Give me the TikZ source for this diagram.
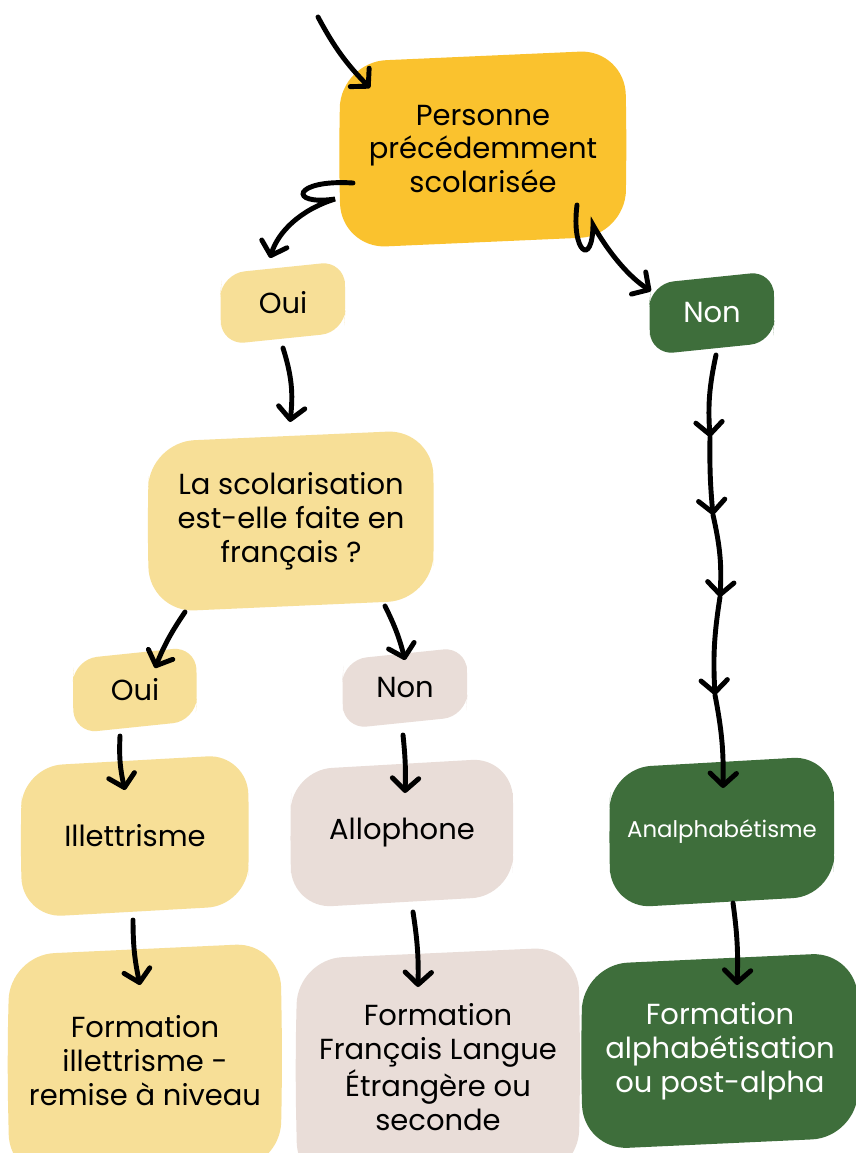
\documentclass[tikz,border=0pt]{standalone}
\usepackage{fontspec}
\setmainfont{Poppins}
\usepackage{tikz}
\usetikzlibrary{arrows.meta,backgrounds}
\definecolor{gold}{HTML}{FAC22E}
\definecolor{sand}{HTML}{F7DF97}
\definecolor{rose}{HTML}{E9DDD8}
\definecolor{moss}{HTML}{3E6E3B}
\tikzset{
    box/.style={align=center, inner sep=0pt, font=\fontsize{16.5}{19.3}\selectfont},
    dark/.style={box, text=white},
    arr/.style={line width=2.8pt, line cap=round, -{Straight Barb[length=7pt,width=15pt,round]}},
}
\newcommand{\blob}[3]{%
  \fill[#2, rounded corners=#3] ([yshift=-0.25cm]#1.north west) -- (#1.north east)
    -- ([xshift=0.04cm]#1.east) -- ([yshift=0.25cm]#1.south east)
    -- (#1.south west) -- ([xshift=-0.05cm]#1.west) -- cycle;}

\begin{document}
\begin{tikzpicture}
\useasboundingbox (0,0) rectangle (17.12,-23.06);

\node[box, minimum width=5.66cm, minimum height=3.96cm] (pers) at (9.66,-2.98) {Personne\\précédemment\\scolarisée};
\node[box, minimum width=2.42cm, minimum height=1.66cm] (oui1) at (5.66,-6.06) {Oui};
\node[dark, minimum width=2.42cm, minimum height=1.66cm] (non1) at (14.24,-6.26) {Non};
\node[box, minimum width=5.64cm, minimum height=3.64cm] (scol) at (5.82,-10.42) {La scolarisation\\est-elle faite en\\français ?};
\node[box, minimum width=2.40cm, minimum height=1.72cm] (oui2) at (2.70,-13.80) {Oui};
\node[box, minimum width=2.42cm, minimum height=1.62cm] (non2) at (8.10,-13.76) {Non};
\node[box, minimum width=4.48cm, minimum height=3.26cm] (illet) at (2.70,-16.72) {Illettrisme};
\node[box, minimum width=4.38cm, minimum height=3.00cm] (allo) at (8.04,-16.66) {Allophone};
\node[dark, minimum width=4.42cm, minimum height=3.04cm, font=\fontsize{13}{16}\selectfont] (anal) at (14.44,-16.64) {Analphabétisme};
\node[box, minimum width=5.40cm, minimum height=4.72cm] (remise) at (2.90,-21.22) {Formation\\illettrisme -\\remise à niveau};
\node[box, minimum width=5.60cm, minimum height=4.80cm] (fle) at (8.76,-21.34) {Formation\\Français Langue\\Étrangère ou\\seconde};
\node[dark, minimum width=5.46cm, minimum height=3.94cm] (alpha) at (14.40,-21.02) {Formation\\alphabétisation\\ou post-alpha};

\coordinate (start) at (6.36,-0.34);
\coordinate (k1) at (14.20,-8.74);
\coordinate (k2) at (14.26,-10.30);
\coordinate (k3) at (14.40,-11.94);
\coordinate (k4) at (14.30,-13.90);

\draw[arr] (start) to[bend right=8] ([shift={(-2.26,1.22)}]pers.center);
\draw[arr] ([shift={(-2.60,-0.68)}]pers.center) .. controls (5.85,-3.58) and (5.75,-4.12) .. (6.70,-3.98)
    .. controls (6.0,-4.2) and (5.56,-4.64) .. ([shift={(-0.26,0.90)}]oui1.center);
\draw[arr] ([shift={(1.88,-1.12)}]pers.center) .. controls (11.42,-5.05) and (11.85,-5.35) .. (11.86,-4.5)
    .. controls (12.2,-5.1) and (12.6,-5.55) .. ([shift={(-1.22,0.44)}]non1.center);
\draw[arr] ([shift={(0,-0.90)}]oui1.center) to[bend left=12] ([shift={(-0.02,1.98)}]scol.center);
\draw[arr] ([shift={(0.08,-0.84)}]non1.center) to[bend right=8] (k1);
\draw[arr] (k1) to[bend right=3] (k2);
\draw[arr] (k2) to[bend left=8] (k3);
\draw[arr] (k3) to[bend right=6] (k4);
\draw[arr] (k4) to[bend left=6] ([shift={(0.02,0.88)}]anal.center);
\draw[arr] ([shift={(-2.12,-1.82)}]scol.center) to[bend right=6] ([shift={(0.40,0.44)}]oui2.center);
\draw[arr] ([shift={(1.88,-1.70)}]scol.center) to[bend left=6] ([shift={(0,0.56)}]non2.center);
\draw[arr] ([shift={(-0.30,-0.92)}]oui2.center) to[bend right=8] ([shift={(-0.20,0.92)}]illet.center);
\draw[arr] ([shift={(-0.04,-0.94)}]non2.center) to[bend left=4] ([shift={(0.06,0.80)}]allo.center);
\draw[arr] ([shift={(0.22,-1.58)}]allo.center) to[bend left=5] ([shift={(-0.40,1.60)}]fle.center);
\draw[arr] ([shift={(-0.04,-1.68)}]illet.center) to[bend right=6] ([shift={(-0.10,1.52)}]remise.center);
\draw[arr] ([shift={(0.22,-1.42)}]anal.center) to[bend left=5] ([shift={(0.34,1.32)}]alpha.center);

\begin{scope}[on background layer]
\fill[white] (0,0) rectangle (17.12,-23.06);
\blob{pers}{gold}{0.9cm}
\blob{oui1}{sand}{0.45cm}
\blob{non1}{moss}{0.45cm}
\blob{scol}{sand}{0.9cm}
\blob{oui2}{sand}{0.45cm}
\blob{non2}{rose}{0.45cm}
\blob{illet}{sand}{0.8cm}
\blob{allo}{rose}{0.8cm}
\blob{anal}{moss}{0.8cm}
\blob{remise}{sand}{0.9cm}
\blob{fle}{rose}{0.9cm}
\blob{alpha}{moss}{0.9cm}
\end{scope}
\end{tikzpicture}
\end{document}
